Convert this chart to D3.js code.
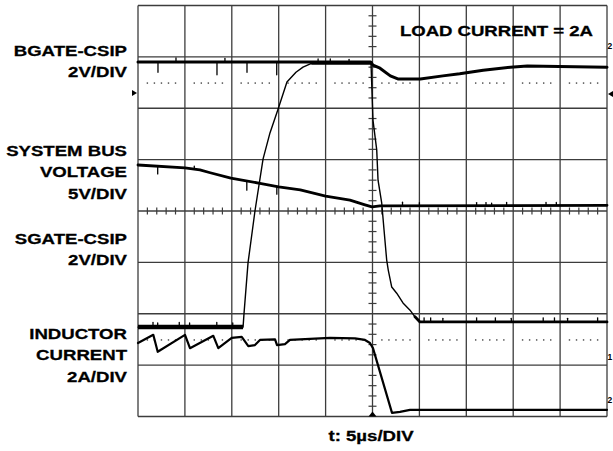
<!DOCTYPE html>
<html><head><meta charset="utf-8">
<script src="https://cdn.jsdelivr.net/npm/d3@7/dist/d3.min.js"></script>
<style>
html,body{margin:0;padding:0;background:#fff;}
svg{display:block;}
text{font-family:"Liberation Sans",Arial,Helvetica,sans-serif;font-weight:bold;fill:#000;stroke:#000;stroke-width:0.3px;}
</style></head><body>
<svg id="chart" width="613" height="451"></svg>
<script>
// ---- data (time in µs, vertical in screen divisions) ----
const timeDomain = [-25, 25];
const divDomain = [-4, 4];
const timeGrid = [-25,-20,-15,-10,-5,0,5,10,15,20,25];
const divGrid = [-4,-3,-2,-1,0,1,2,3,4];
const cursorLevels = [2.49, -2.51];

const bgate = [[-25,2.90],[-0.2,2.90],[0.05,2.84],[0.8,2.78],[1.9,2.63],[2.7,2.57],[5.1,2.57],[7.5,2.63],[9.3,2.67],[11.8,2.74],[14.7,2.80],[16.5,2.82],[25,2.80]];
const busVoltage = [[-25,0.895],[-20,0.84],[-18.4,0.80],[-17.3,0.745],[-15.1,0.64],[-12,0.54],[-10,0.47],[-7.7,0.41],[-5,0.29],[-2.4,0.21],[-0.8,0.12],[-0.05,0.08],[0.8,0.10],[25,0.11]];
const sgate = [[-25,-2.26],[-13.8,-2.26],[-13.7,-2.0],[-13.27,-1.01],[-12.53,0],[-11.67,1.01],[-10.93,1.52],[-10.07,1.98],[-9.12,2.51],[-8.16,2.70],[-7.41,2.80],[-6.45,2.88],[-0.16,2.88],[0.05,1.77],[0.45,1.19],[0.59,0.60],[0.98,0.16],[1.23,-0.37],[1.51,-0.95],[1.68,-1.15],[2.05,-1.48],[2.58,-1.60],[3.25,-1.79],[4.0,-1.93],[4.53,-2.06],[5.06,-2.16],[25,-2.16]];
const inductor = [[-25,-2.57],[-23.37,-2.41],[-22.9,-2.74],[-19.99,-2.41],[-19.46,-2.67],[-16.97,-2.43],[-16.44,-2.67],[-15.01,-2.47],[-13.94,-2.45],[-13.24,-2.63],[-12.53,-2.61],[-12.0,-2.51],[-10.39,-2.50],[-10.18,-2.61],[-9.33,-2.59],[-8.8,-2.51],[-6.66,-2.49],[-4.53,-2.47],[-1.87,-2.48],[-0.8,-2.51],[-0.27,-2.57],[0.05,-2.67],[2.08,-3.93],[2.93,-3.91],[4.0,-3.87],[25,-3.87]];

// glitches: [time, offset in divisions]
const bgateGlitches = [[-22.87,-0.2],[-20.95,0.08],[-16.58,-0.25],[-15.73,0.07],[-13.38,-0.2],[-10.21,-0.25],[-5.8,0.06],[-4.5,0.06],[-2.5,0.05]];
const busGlitches = [[-22.9,-0.15],[-13.4,-0.18],[-10.2,-0.15],[-19.0,0.06],[3.2,0.07],[5.0,0.06],[11.1,0.06],[12.1,0.06],[12.7,0.05],[14.3,0.06],[18.5,0.06],[19.6,0.06]];
const sgateGlitches = [[-23.4,0.09],[-22.9,0.08],[-20.6,0.09],[-19.5,0.08],[-16.6,0.09],[-14.9,0.08],[5.5,0.08],[6.2,0.08],[7.5,0.07],[11.1,0.08],[13.1,0.08],[14.8,0.07],[18.2,0.08],[19.4,0.08],[20.8,0.07],[24.0,0.08]];

const channelLabels = [["BGATE-CSIP","2V/DIV"],["SYSTEM BUS","VOLTAGE","5V/DIV"],["SGATE-CSIP","2V/DIV"],["INDUCTOR","CURRENT","2A/DIV"]];
const noteText = "LOAD CURRENT = 2A";
const timeLabel = "t: 5µs/DIV";
const rightMarkers = ["2","1","2"];

// ---- drawing ----
const svg = d3.select("#chart");
const x = d3.scaleLinear().domain(timeDomain).range([138, 607]);
const y = d3.scaleLinear().domain(divDomain).range([416.5, 5.5]);
const gridColor = "#3c3c3c";

const grid = svg.append("g");
grid.selectAll(".vg").data(timeGrid).join("line")
  .attr("x1", d=>x(d)).attr("x2", d=>x(d)).attr("y1", y(4)).attr("y2", y(-4))
  .attr("stroke", gridColor).attr("stroke-width", 1.3);
grid.selectAll(".hg").data(divGrid).join("line")
  .attr("y1", d=>y(d)).attr("y2", d=>y(d)).attr("x1", x(-25)).attr("x2", x(25))
  .attr("stroke", gridColor).attr("stroke-width", 1.3);

// center-line minor ticks
const tMinor = d3.range(-25, 25.001, 1).filter(t => Math.abs(t % 5) > 1e-6);
grid.selectAll(".tm").data(tMinor).join("line")
  .attr("x1", d=>x(d)).attr("x2", d=>x(d)).attr("y1", y(0)-3.5).attr("y2", y(0)+3.5)
  .attr("stroke", gridColor).attr("stroke-width", 1.2);
const dMinor = d3.range(-4, 4.001, 0.2).filter(v => Math.abs(v - Math.round(v)) > 1e-6);
grid.selectAll(".dm").data(dMinor).join("line")
  .attr("y1", d=>y(d)).attr("y2", d=>y(d)).attr("x1", x(0)-4).attr("x2", x(0)+4)
  .attr("stroke", gridColor).attr("stroke-width", 1.2);
// center bottom marker
svg.append("path").attr("d", `M${x(0)-4},${y(-4)} L${x(0)},${y(-4)-5} L${x(0)+4},${y(-4)} Z`).attr("fill","#000");

// dotted cursor levels
const dotOffsets = [0.2,0.35,0.5,0.65,0.8];
const dots = [];
cursorLevels.forEach(lv => {
  for (let i = 0; i < 10; i++) dotOffsets.forEach(o => dots.push([-25 + (i + o) * 5, lv]));
});
svg.append("g").selectAll("rect").data(dots).join("rect")
  .attr("x", d=>x(d[0])-0.7).attr("y", d=>y(d[1])-0.7).attr("width",1.4).attr("height",1.4)
  .attr("fill","#444");

// traces
const line = d3.line().x(d=>x(d[0])).y(d=>y(d[1]));
const traces = svg.append("g").attr("fill","none").attr("stroke","#000")
  .attr("stroke-linejoin","round").attr("stroke-linecap","round");

traces.append("path").attr("d", line(busVoltage)).attr("stroke-width", 2.8);
traces.append("path").attr("d", line(bgate)).attr("stroke-width", 3.0);
traces.append("path").attr("d", line(sgate)).attr("stroke-width", 1.4);
traces.append("path").attr("d", line(sgate.filter(d=>d[0] <= -13.8))).attr("stroke-width", 4.5).attr("stroke-linecap","butt");
traces.append("path").attr("d", line(sgate.filter(d=>d[0] >= -6.45 && d[0] <= -0.16))).attr("stroke-width", 3.4);
traces.append("path").attr("d", line(sgate.filter(d=>d[0] >= 4.5))).attr("stroke-width", 2.8);
traces.append("path").attr("d", line(inductor)).attr("stroke-width", 2.2);

function levelAt(trace, t) {
  for (let i = 1; i < trace.length; i++) {
    const a = trace[i-1], b = trace[i];
    if (t >= a[0] && t <= b[0]) return a[1] + (b[1]-a[1]) * (t-a[0]) / (b[0]-a[0]);
  }
  return trace[trace.length-1][1];
}
function drawGlitches(trace, gl) {
  traces.append("g").selectAll("line").data(gl).join("line")
    .attr("x1", d=>x(d[0])).attr("x2", d=>x(d[0]))
    .attr("y1", d=>y(levelAt(trace, d[0]))).attr("y2", d=>y(levelAt(trace, d[0]) + d[1]))
    .attr("stroke-width", 1.3);
}
drawGlitches(bgate, bgateGlitches);
drawGlitches(busVoltage, busGlitches);
drawGlitches(sgate, sgateGlitches);

// markers
svg.append("path").attr("d", "M132,90 L137,93 L132,96 Z").attr("fill","#000");
svg.append("path").attr("d", "M608,94 L613,91 L613,97 Z").attr("fill","#000");
const rmY = [49, 360, 403];
svg.selectAll(".rm").data(rightMarkers).join("text")
  .attr("x", 607.5).attr("y", (d,i)=>rmY[i]).attr("font-size", 8.5).style("stroke-width", "0px").text(d=>d);

// labels
const fs = 15.5, sx = 1.2;
const blockY = [56, 156, 244, 339];
const lineStep = 21.3;
channelLabels.forEach((lines, bi) => {
  lines.forEach((s, li) => {
    svg.append("text").attr("text-anchor","end").attr("font-size", fs)
      .attr("transform", `translate(127,${blockY[bi] + li*lineStep}) scale(${sx},1)`).text(s);
  });
});
svg.append("text").attr("font-size", fs)
  .attr("transform", `translate(400,36) scale(${sx},1)`)
  .attr("textLength", 193 / sx).attr("lengthAdjust", "spacing").text(noteText);
svg.append("text").attr("font-size", fs).attr("text-anchor","middle")
  .attr("transform", `translate(371,441) scale(${sx},1)`).text(timeLabel);
</script>
</body></html>
